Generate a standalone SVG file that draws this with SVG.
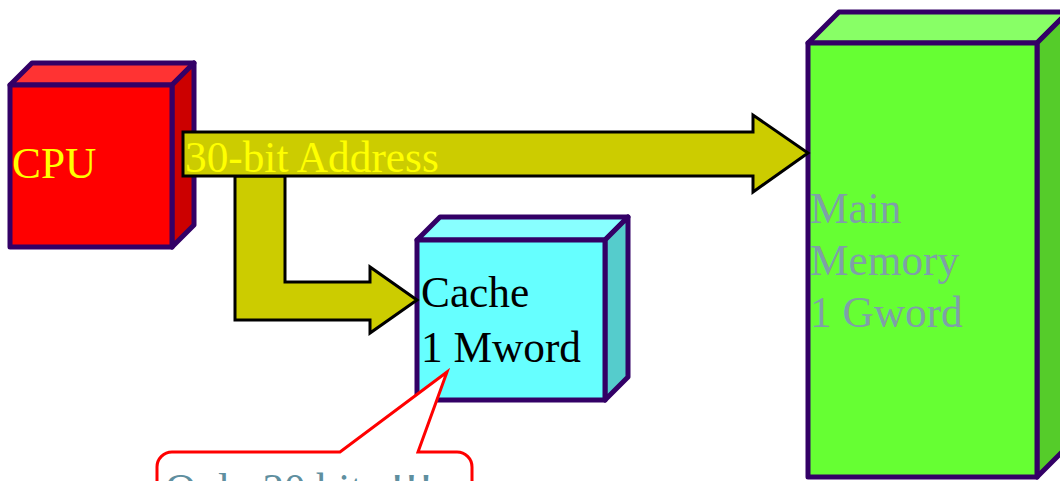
<svg xmlns="http://www.w3.org/2000/svg" width="1060" height="481" viewBox="0 0 1060 481">
<style>
.edge{stroke:#330066;stroke-width:5;stroke-linejoin:round}
.arrow{fill:#cccc00;stroke:#000;stroke-width:3;stroke-linejoin:miter}
text{font-family:"Liberation Serif","Times New Roman",serif;font-size:43.3px}
</style>
<rect width="1060" height="481" fill="#fff"/>
<g id="cpu">
<polygon class="edge" fill="#ff3333" points="10,85 32,63 194,63 172,85"/>
<polygon class="edge" fill="#cc0000" points="172,85 194,63 194,225 172,247"/>
<rect class="edge" fill="#ff0000" x="10" y="85" width="162" height="162"/>
<text x="12" y="178" fill="#ffff00">CPU</text>
</g>
<g id="cache">
<polygon class="edge" fill="#88ffff" points="417,240 440,217 628,217 605,240"/>
<polygon class="edge" fill="#55cccc" points="605,240 628,217 628,377 605,400"/>
<rect class="edge" fill="#66ffff" x="417" y="240" width="188" height="160"/>
<text x="421" y="307" fill="#000">Cache</text>
<text x="421" y="362" fill="#000">1 Mword</text>
</g>
<g id="main-memory">
<polygon class="edge" fill="#88ff66" points="808,43 839,12 1068,12 1037,43"/>
<polygon class="edge" fill="#55cc2a" points="1037,43 1068,12 1068,446 1037,477"/>
<rect class="edge" fill="#66ff33" x="808" y="43" width="229" height="434"/>
<text x="810" y="223" fill="#7f9fa8">Main</text>
<text x="810" y="275" fill="#7f9fa8">Memory</text>
<text x="810" y="327" fill="#7f9fa8">1 Gword</text>
</g>
<g id="connectors">
<polygon class="arrow" points="235,176 285,176 285,282 370,282 370,267 417,300 370,333 370,320 235,320"/>
<polygon class="arrow" points="183,132 753,132 753,115 808,153 753,192 753,176 183,176"/>
<text x="185" y="172" fill="#ffff00">30-bit Address</text>
</g>
<g id="callout">
<path d="M172,452 L340,452 L447,372 L418,452 L457,452 A15,15 0 0 1 472,467 L472,520 L157,520 L157,467 A15,15 0 0 1 172,452 Z" fill="#fff" stroke="#ff0000" stroke-width="3" stroke-linejoin="miter"/>
<text x="165" y="504" fill="#5f8f9f">Only 20 bits !!!</text>
</g>
</svg>
